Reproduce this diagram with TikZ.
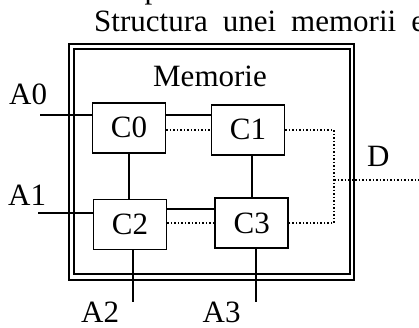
\documentclass[tikz,border=0pt]{standalone}
\usepackage{fontspec}
\setmainfont{Liberation Serif}
\begin{document}
\begin{tikzpicture}[x=1pt,y=-1pt,
  cell/.style={draw,line width=1.6pt,minimum width=73pt,minimum height=50pt,inner sep=0pt,font=\fontsize{31}{33}\selectfont},
  lbl/.style={inner sep=0pt,anchor=base west,font=\fontsize{31}{33}\selectfont},
  wire/.style={line width=1.6pt},
  dotwire/.style={line width=1.5pt,dotted},
  framel/.style={line width=2.2pt}]
\useasboundingbox (0,0) rectangle (419,327);
% frame
\draw[framel] (69.3,44.3) rectangle (354,280);
\draw[framel] (74.3,49.3) rectangle (350,274.3);
% texts
\node[lbl] (ptop) at (144.5,-1.5) {p};
\node[lbl] (title) at (94,31) {\spaceskip=15pt Structura unei memorii e};
\node[lbl,anchor=base] (mem) at (210,86) {Memorie};
% cells
\node[cell] (C0) at (129,127.7) {C0};
\node[cell] (C1) at (248,129.8) {C1};
\node[cell] (C2) at (130,224.5) {C2};
\node[cell] (C3) at (251.7,223) {C3};
% coordinates
\coordinate (a0) at (40,115);
\coordinate (a1) at (38,212.7);
\coordinate (a2) at (133,301.7);
\coordinate (a3) at (256,301.7);
\coordinate (j1) at (334,129.8);
\coordinate (j2) at (334,223);
\coordinate (jd) at (334,180);
\coordinate (dend) at (419,180);
\coordinate (s23) at (166.7,209);
% wires
\draw[wire] (a0) -- (a0 -| C0.west);
\draw[wire] (C0.east |- a0) -- (C1.west |- a0);
\draw[dotwire] (C0.east |- C1.west) -- (C1.west);
\draw[dotwire] (C1.east) -- (j1) -- (j2) -- (C3.east);
\draw[dotwire] (jd) -- (dend);
\draw[wire] (C0.south) -- (C0.south |- C2.north);
\draw[wire] (C3.north |- C1.south) -- (C3.north);
\draw[wire] (C2.east |- s23) -- (C3.west |- s23);
\draw[dotwire] (C2.east |- C3.west) -- (C3.west);
\draw[wire] (a1) -- (a1 -| C2.west);
\draw[wire] (a2 |- C2.south) -- (a2);
\draw[wire] (a3 |- C3.south) -- (a3);
% labels
\node[lbl] (tA0) at (9,104) {A0};
\node[lbl] (tA1) at (8,205) {A1};
\node[lbl] (tA2) at (81,322.5) {A2};
\node[lbl] (tA3) at (202.5,322.5) {A3};
\node[lbl] (tD) at (367,166.7) {D};
\end{tikzpicture}
\end{document}
